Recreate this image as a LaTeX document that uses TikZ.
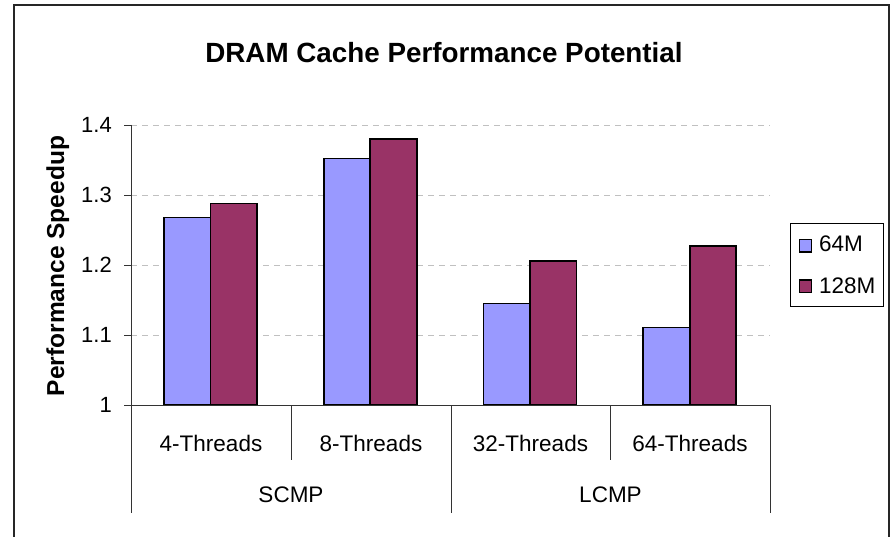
\documentclass[tikz,border=0pt]{standalone}
\usepackage{fontspec}
\setmainfont{Liberation Sans}
\definecolor{barblue}{RGB}{153,153,255}
\definecolor{barred}{RGB}{153,51,102}
\definecolor{gridgray}{RGB}{192,192,192}
\begin{document}
\begin{tikzpicture}[x=1pt,y=-1pt,
  bar/.style={draw=black,line width=1.6pt},
  gridline/.style={draw=gridgray,line width=0.9pt,dash pattern=on 6pt off 5pt},
  axisline/.style={draw=black!80,line width=1pt},
  ticklbl/.style={anchor=east,inner sep=0pt,font=\fontsize{22}{24}\selectfont},
  catlbl/.style={anchor=base,inner sep=0pt,font=\fontsize{22.5}{24}\selectfont},
  leglbl/.style={anchor=base west,inner sep=0pt,font=\fontsize{22.5}{24}\selectfont},
  legsq/.style={draw=black,line width=1.3pt}]
\useasboundingbox (0,0) rectangle (895,537);
\fill[white] (0,0) rectangle (895,537);
% outer frame
\draw[black!85,line width=1.2pt] (14,5) rectangle (889,560);
% title
\node[anchor=base,inner sep=0pt,font=\bfseries\fontsize{27.8}{30}\selectfont] (title) at (444,62.7) {DRAM Cache Performance Potential};
% gridlines
\foreach \v/\n in {1.1/a,1.2/b,1.3/c,1.4/d}{
  \coordinate (gl\n) at (131,{405.3-(\v-1)*700.75});
  \coordinate (gr\n) at (770,{405.3-(\v-1)*700.75});
  \draw[gridline] (gl\n) -- (gr\n);
}
% bars
\foreach \k/\b/\r in {0/1.268/1.288,1/1.352/1.380,2/1.145/1.206,3/1.111/1.227}{
  \pgfmathsetmacro{\L}{131+159.75*\k}
  \draw[bar,fill=barblue] ({\L+33},405.3) rectangle ({\L+79.5},{405.3-(\b-1)*700.75});
  \draw[bar,fill=barred] ({\L+79.5},405.3) rectangle ({\L+126},{405.3-(\r-1)*700.75});
}
% axes
\coordinate (ytop) at (131,125);
\coordinate (ybot) at (131,513);
\draw[axisline] (ytop) -- (ybot);
\coordinate (x0l) at (124,405.3);
\coordinate (x0r) at (770,405.3);
\draw[axisline] (x0l) -- (x0r);
\foreach \v/\n in {1.1/a,1.2/b,1.3/c,1.4/d}{
  \coordinate (tk\n) at (124,{405.3-(\v-1)*700.75});
  \draw[axisline] (tk\n) -- (gl\n);
}
% category separators
\coordinate (s1t) at (291,405.3); \coordinate (s1b) at (291,460);
\coordinate (s2t) at (451,405.3); \coordinate (s2b) at (451,513);
\coordinate (s3t) at (610.5,405.3); \coordinate (s3b) at (610.5,460);
\coordinate (s4t) at (770,405.3); \coordinate (s4b) at (770,513);
\draw[axisline] (s1t) -- (s1b);
\draw[axisline] (s2t) -- (s2b);
\draw[axisline] (s3t) -- (s3b);
\draw[axisline] (s4t) -- (s4b);
% tick labels
\node[ticklbl] (t10) at (112,405.3) {1};
\node[ticklbl] (t11) at (112,335.2) {1.1};
\node[ticklbl] (t12) at (112,265.2) {1.2};
\node[ticklbl] (t13) at (112,195.1) {1.3};
\node[ticklbl] (t14) at (112,125.0) {1.4};
% axis label
\node[rotate=90,anchor=base,inner sep=0pt,font=\bfseries\fontsize{24.5}{27}\selectfont] (ylabel) at (64,266) {Performance Speedup};
% category labels
\node[catlbl] (c1) at (211,451) {4-Threads};
\node[catlbl] (c2) at (371,451) {8-Threads};
\node[catlbl] (c3) at (530.5,451) {32-Threads};
\node[catlbl] (c4) at (690,451) {64-Threads};
\node[catlbl] (g1) at (291,502.7) {SCMP};
\node[catlbl] (g2) at (610.5,502.7) {LCMP};
% legend
\draw[black,line width=0.9pt] (790,223) rectangle (883,306);
\draw[legsq,fill=barblue] (799.5,239.5) rectangle (811.5,252);
\draw[legsq,fill=barred] (799.5,280) rectangle (811.5,292.5);
\node[leglbl] (l1) at (819,251.7) {64M};
\node[leglbl] (l2) at (819,293.3) {128M};
\end{tikzpicture}
\end{document}
